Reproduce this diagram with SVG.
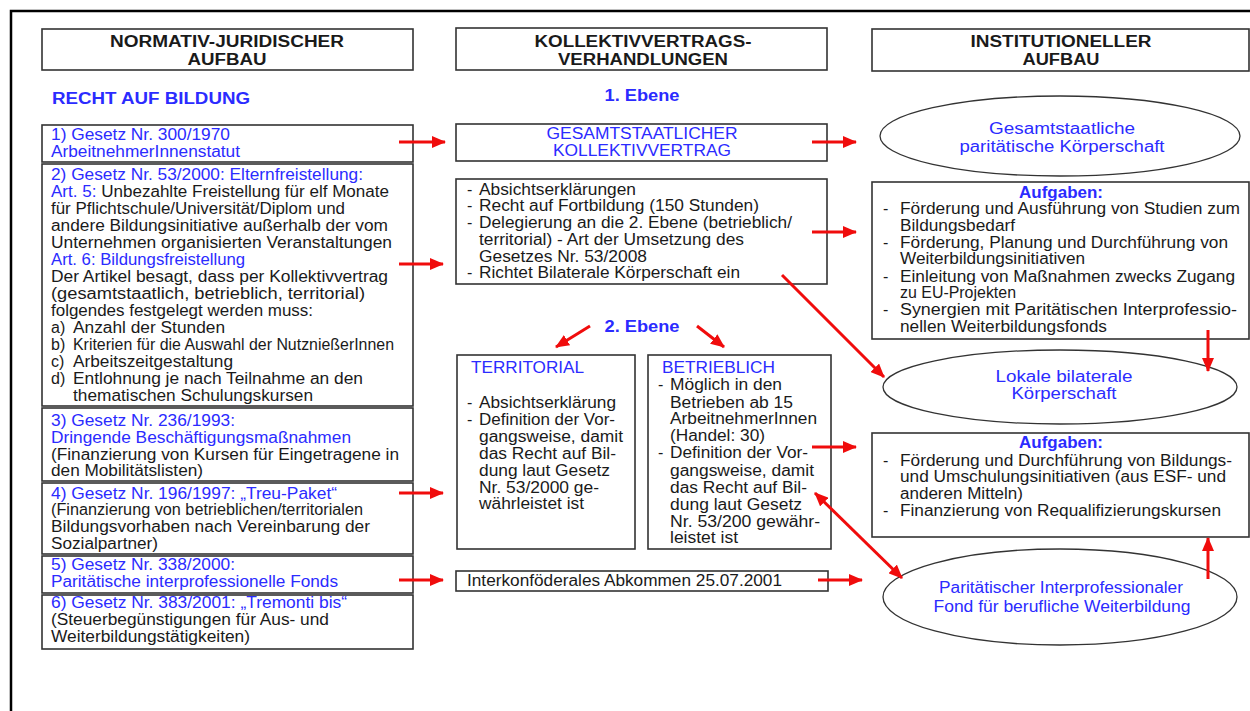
<svg xmlns="http://www.w3.org/2000/svg" width="1250" height="711" viewBox="0 0 1250 711">
<defs>
<style>
text{font-family:"Liberation Sans",Arial,sans-serif;font-size:16px;fill:#1a1a1a}
.b{fill:#2b2bff}
.h{font-weight:bold;font-size:16px}
.c{text-anchor:middle}
.box{fill:#fff;stroke:#333;stroke-width:1.6}
.ell{fill:#fff;stroke:#333;stroke-width:1.3}
.arr{stroke:#f00c0c;stroke-width:3;fill:none;marker-end:url(#ah)}
</style>
<marker id="ah" markerUnits="userSpaceOnUse" markerWidth="14" markerHeight="12" refX="13" refY="6" orient="auto">
<path d="M0,0 L14,6 L0,12 z" fill="#f00c0c"/>
</marker>
<marker id="ahs" markerUnits="userSpaceOnUse" markerWidth="14" markerHeight="12" refX="1" refY="6" orient="auto">
<path d="M14,0 L0,6 L14,12 z" fill="#f00c0c"/>
</marker>
</defs>
<rect width="1250" height="711" fill="#fff"/>
<path d="M11,711 V11 H1250" fill="none" stroke="#000" stroke-width="2.5"/>

<g id="hdr-left">
<rect class="box" x="42" y="29" width="371" height="41"/>
<text class="h c" x="227" y="47" textLength="234" lengthAdjust="spacingAndGlyphs">NORMATIV-JURIDISCHER</text>
<text class="h c" x="227" y="65" textLength="79" lengthAdjust="spacingAndGlyphs">AUFBAU</text>
</g>
<g id="recht">
<text class="h b" x="52" y="104" textLength="198" lengthAdjust="spacingAndGlyphs">RECHT AUF BILDUNG</text>
</g>
<g id="law1">
<rect class="box" x="42" y="125" width="371" height="37"/>
<text class="b" x="51" y="140" textLength="179" lengthAdjust="spacingAndGlyphs">1) Gesetz Nr. 300/1970</text>
<text class="b" x="51" y="157" textLength="189" lengthAdjust="spacingAndGlyphs">ArbeitnehmerInnenstatut</text>
</g>
<g id="law2">
<rect class="box" x="42" y="164" width="371" height="242"/>
<text class="b" x="51" y="180" textLength="312" lengthAdjust="spacingAndGlyphs">2) Gesetz Nr. 53/2000: Elternfreistellung:</text>
<text x="51" y="197" textLength="338" lengthAdjust="spacingAndGlyphs"><tspan class="b">Art. 5:</tspan> Unbezahlte Freistellung für elf Monate</text>
<text x="51" y="214" textLength="294" lengthAdjust="spacingAndGlyphs">für Pflichtschule/Universität/Diplom und</text>
<text x="51" y="231" textLength="337" lengthAdjust="spacingAndGlyphs">andere Bildungsinitiative außerhalb der vom</text>
<text x="51" y="248" textLength="341" lengthAdjust="spacingAndGlyphs">Unternehmen organisierten Veranstaltungen</text>
<text class="b" x="51" y="265" textLength="194" lengthAdjust="spacingAndGlyphs">Art. 6: Bildungsfreistellung</text>
<text x="51" y="282" textLength="337" lengthAdjust="spacingAndGlyphs">Der Artikel besagt, dass per Kollektivvertrag</text>
<text x="51" y="299" textLength="314" lengthAdjust="spacingAndGlyphs">(gesamtstaatlich, betrieblich, territorial)</text>
<text x="51" y="316" textLength="262" lengthAdjust="spacingAndGlyphs">folgendes festgelegt werden muss:</text>
<text x="51" y="333">a)</text><text x="73" y="333" textLength="152" lengthAdjust="spacingAndGlyphs">Anzahl der Stunden</text>
<text x="51" y="350">b)</text><text x="73" y="350" textLength="321" lengthAdjust="spacingAndGlyphs">Kriterien für die Auswahl der NutznießerInnen</text>
<text x="51" y="367">c)</text><text x="73" y="367" textLength="160" lengthAdjust="spacingAndGlyphs">Arbeitszeitgestaltung</text>
<text x="51" y="384">d)</text><text x="73" y="384" textLength="290" lengthAdjust="spacingAndGlyphs">Entlohnung je nach Teilnahme an den</text>
<text x="73" y="401" textLength="240" lengthAdjust="spacingAndGlyphs">thematischen Schulungskursen</text>
</g>
<g id="law3">
<rect class="box" x="42" y="408" width="371" height="73"/>
<text class="b" x="51" y="426" textLength="184" lengthAdjust="spacingAndGlyphs">3) Gesetz Nr. 236/1993:</text>
<text class="b" x="51" y="443" textLength="300" lengthAdjust="spacingAndGlyphs">Dringende Beschäftigungsmaßnahmen</text>
<text x="51" y="460" textLength="348" lengthAdjust="spacingAndGlyphs">(Finanzierung von Kursen für Eingetragene in</text>
<text x="51" y="476" textLength="152" lengthAdjust="spacingAndGlyphs">den Mobilitätslisten)</text>
</g>
<g id="law4">
<rect class="box" x="42" y="483" width="371" height="71"/>
<text class="b" x="51" y="499" textLength="286" lengthAdjust="spacingAndGlyphs">4) Gesetz Nr. 196/1997: „Treu-Paket“</text>
<text x="51" y="515" textLength="312" lengthAdjust="spacingAndGlyphs">(Finanzierung von betrieblichen/territorialen</text>
<text x="51" y="532" textLength="319" lengthAdjust="spacingAndGlyphs">Bildungsvorhaben nach Vereinbarung der</text>
<text x="51" y="549" textLength="107" lengthAdjust="spacingAndGlyphs">Sozialpartner)</text>
</g>
<g id="law5">
<rect class="box" x="42" y="556" width="371" height="37"/>
<text class="b" x="51" y="570" textLength="184" lengthAdjust="spacingAndGlyphs">5) Gesetz Nr. 338/2000:</text>
<text class="b" x="51" y="587" textLength="287" lengthAdjust="spacingAndGlyphs">Paritätische interprofessionelle Fonds</text>
</g>
<g id="law6">
<rect class="box" x="42" y="595" width="371" height="54"/>
<text class="b" x="51" y="608" textLength="296" lengthAdjust="spacingAndGlyphs">6) Gesetz Nr. 383/2001: „Tremonti bis“</text>
<text x="51" y="625" textLength="278" lengthAdjust="spacingAndGlyphs">(Steuerbegünstigungen für Aus- und</text>
<text x="51" y="642" textLength="199" lengthAdjust="spacingAndGlyphs">Weiterbildungstätigkeiten)</text>
</g>

<g id="hdr-mid">
<rect class="box" x="456" y="28" width="371" height="42"/>
<text class="h c" x="643" y="47" textLength="217" lengthAdjust="spacingAndGlyphs">KOLLEKTIVVERTRAGS-</text>
<text class="h c" x="643" y="65" textLength="170" lengthAdjust="spacingAndGlyphs">VERHANDLUNGEN</text>
</g>
<g id="ebene1">
<text class="h b c" x="642" y="101" textLength="75" lengthAdjust="spacingAndGlyphs">1. Ebene</text>
</g>
<g id="gesamt">
<rect class="box" x="456" y="124" width="371" height="37"/>
<text class="b c" x="642" y="139" textLength="191" lengthAdjust="spacingAndGlyphs">GESAMTSTAATLICHER</text>
<text class="b c" x="642" y="156" textLength="178" lengthAdjust="spacingAndGlyphs">KOLLEKTIVVERTRAG</text>
</g>
<g id="gesamt-list">
<rect class="box" x="456" y="179" width="371" height="105"/>
<text x="467" y="195">-</text><text x="479" y="195" textLength="157" lengthAdjust="spacingAndGlyphs">Absichtserklärungen</text>
<text x="467" y="211">-</text><text x="479" y="211" textLength="280" lengthAdjust="spacingAndGlyphs">Recht auf Fortbildung (150 Stunden)</text>
<text x="467" y="228">-</text><text x="479" y="228" textLength="313" lengthAdjust="spacingAndGlyphs">Delegierung an die 2. Ebene (betrieblich/</text>
<text x="479" y="245" textLength="265" lengthAdjust="spacingAndGlyphs">territorial) - Art der Umsetzung des</text>
<text x="479" y="262" textLength="168" lengthAdjust="spacingAndGlyphs">Gesetzes Nr. 53/2008</text>
<text x="467" y="278">-</text><text x="479" y="278" textLength="261" lengthAdjust="spacingAndGlyphs">Richtet Bilaterale Körperschaft ein</text>
</g>
<g id="ebene2">
<text class="h b c" x="642" y="332" textLength="75" lengthAdjust="spacingAndGlyphs">2. Ebene</text>
</g>
<g id="territorial">
<rect class="box" x="457" y="355" width="178" height="194"/>
<text class="b" x="471" y="373" textLength="113" lengthAdjust="spacingAndGlyphs">TERRITORIAL</text>
<text x="467" y="408">-</text><text x="479" y="408" textLength="137" lengthAdjust="spacingAndGlyphs">Absichtserklärung</text>
<text x="467" y="425">-</text><text x="479" y="425" textLength="136" lengthAdjust="spacingAndGlyphs">Definition der Vor-</text>
<text x="479" y="442" textLength="144" lengthAdjust="spacingAndGlyphs">gangsweise, damit</text>
<text x="479" y="459" textLength="137" lengthAdjust="spacingAndGlyphs">das Recht auf Bil-</text>
<text x="479" y="476" textLength="131" lengthAdjust="spacingAndGlyphs">dung laut Gesetz</text>
<text x="479" y="493" textLength="120" lengthAdjust="spacingAndGlyphs">Nr. 53/2000 ge-</text>
<text x="479" y="509" textLength="105" lengthAdjust="spacingAndGlyphs">währleistet ist</text>
</g>
<g id="betrieblich">
<rect class="box" x="648" y="355" width="183" height="194"/>
<text class="b" x="662" y="373" textLength="113" lengthAdjust="spacingAndGlyphs">BETRIEBLICH</text>
<text x="658" y="390">-</text><text x="670" y="390" textLength="112" lengthAdjust="spacingAndGlyphs">Möglich in den</text>
<text x="670" y="408" textLength="123" lengthAdjust="spacingAndGlyphs">Betrieben ab 15</text>
<text x="670" y="424" textLength="147" lengthAdjust="spacingAndGlyphs">ArbeitnehmerInnen</text>
<text x="670" y="441" textLength="95" lengthAdjust="spacingAndGlyphs">(Handel: 30)</text>
<text x="658" y="458">-</text><text x="670" y="458" textLength="138" lengthAdjust="spacingAndGlyphs">Definition der Vor-</text>
<text x="670" y="476" textLength="144" lengthAdjust="spacingAndGlyphs">gangsweise, damit</text>
<text x="670" y="493" textLength="137" lengthAdjust="spacingAndGlyphs">das Recht auf Bil-</text>
<text x="670" y="510" textLength="132" lengthAdjust="spacingAndGlyphs">dung laut Gesetz</text>
<text x="670" y="527" textLength="150" lengthAdjust="spacingAndGlyphs">Nr. 53/200 gewähr-</text>
<text x="670" y="543" textLength="68" lengthAdjust="spacingAndGlyphs">leistet ist</text>
</g>
<g id="interkonf">
<rect class="box" x="456" y="571" width="372" height="20"/>
<text x="467" y="586" textLength="315" lengthAdjust="spacingAndGlyphs">Interkonföderales Abkommen 25.07.2001</text>
</g>

<g id="hdr-right">
<rect class="box" x="872" y="29" width="377" height="42"/>
<text class="h c" x="1061" y="47" textLength="181" lengthAdjust="spacingAndGlyphs">INSTITUTIONELLER</text>
<text class="h c" x="1061" y="65" textLength="77" lengthAdjust="spacingAndGlyphs">AUFBAU</text>
</g>
<g id="ell1">
<ellipse class="ell" cx="1060" cy="136" rx="180" ry="40"/>
<text class="b c" x="1062" y="134" textLength="146" lengthAdjust="spacingAndGlyphs">Gesamtstaatliche</text>
<text class="b c" x="1062" y="152" textLength="205" lengthAdjust="spacingAndGlyphs">paritätische Körperschaft</text>
</g>
<g id="aufg1">
<rect class="box" x="872" y="182" width="377" height="157"/>
<text class="h b c" x="1061" y="198" textLength="84" lengthAdjust="spacingAndGlyphs">Aufgaben:</text>
<text x="883" y="214">-</text><text x="900" y="214" textLength="340" lengthAdjust="spacingAndGlyphs">Förderung und Ausführung von Studien zum</text>
<text x="900" y="231" textLength="115" lengthAdjust="spacingAndGlyphs">Bildungsbedarf</text>
<text x="883" y="248">-</text><text x="900" y="248" textLength="328" lengthAdjust="spacingAndGlyphs">Förderung, Planung und Durchführung von</text>
<text x="900" y="264" textLength="185" lengthAdjust="spacingAndGlyphs">Weiterbildungsinitiativen</text>
<text x="883" y="282">-</text><text x="900" y="282" textLength="335" lengthAdjust="spacingAndGlyphs">Einleitung von Maßnahmen zwecks Zugang</text>
<text x="900" y="298" textLength="116" lengthAdjust="spacingAndGlyphs">zu EU-Projekten</text>
<text x="883" y="315">-</text><text x="900" y="315" textLength="337" lengthAdjust="spacingAndGlyphs">Synergien mit Paritätischen Interprofessio-</text>
<text x="900" y="332" textLength="207" lengthAdjust="spacingAndGlyphs">nellen Weiterbildungsfonds</text>
</g>
<g id="ell2">
<ellipse class="ell" cx="1060" cy="387" rx="177" ry="37"/>
<text class="b c" x="1064" y="382" textLength="137" lengthAdjust="spacingAndGlyphs">Lokale bilaterale</text>
<text class="b c" x="1064" y="399" textLength="105" lengthAdjust="spacingAndGlyphs">Körperschaft</text>
</g>
<g id="aufg2">
<rect class="box" x="872" y="433" width="377" height="104"/>
<text class="h b c" x="1061" y="448" textLength="84" lengthAdjust="spacingAndGlyphs">Aufgaben:</text>
<text x="883" y="466">-</text><text x="900" y="466" textLength="332" lengthAdjust="spacingAndGlyphs">Förderung und Durchführung von Bildungs-</text>
<text x="900" y="482" textLength="326" lengthAdjust="spacingAndGlyphs">und Umschulungsinitiativen (aus ESF- und</text>
<text x="900" y="499" textLength="123" lengthAdjust="spacingAndGlyphs">anderen Mitteln)</text>
<text x="883" y="516">-</text><text x="900" y="516" textLength="321" lengthAdjust="spacingAndGlyphs">Finanzierung von Requalifizierungskursen</text>
</g>
<g id="ell3">
<ellipse class="ell" cx="1060" cy="597" rx="177" ry="48"/>
<text class="b c" x="1061" y="593" textLength="244" lengthAdjust="spacingAndGlyphs">Paritätischer Interprofessionaler</text>
<text class="b c" x="1062" y="612" textLength="257" lengthAdjust="spacingAndGlyphs">Fond für berufliche Weiterbildung</text>
</g>

<g id="connectors">
<line class="arr" x1="399" y1="142" x2="445" y2="142"/>
<line class="arr" x1="399" y1="264" x2="443" y2="264"/>
<line class="arr" x1="399" y1="493" x2="443" y2="493"/>
<line class="arr" x1="399" y1="580" x2="443" y2="580"/>
<line class="arr" x1="812" y1="142" x2="856" y2="142"/>
<line class="arr" x1="812" y1="232" x2="856" y2="232"/>
<line class="arr" x1="782" y1="275" x2="884" y2="377"/>
<line class="arr" x1="590" y1="326" x2="556" y2="347"/>
<line class="arr" x1="697" y1="326" x2="724" y2="347"/>
<line class="arr" x1="812" y1="447" x2="856" y2="447"/>
<line class="arr" x1="815" y1="493" x2="902" y2="578" style="marker-start:url(#ahs)"/>
<line class="arr" x1="818" y1="580" x2="862" y2="580"/>
<line class="arr" x1="1208" y1="330" x2="1208" y2="371"/>
<line class="arr" x1="1208" y1="579" x2="1208" y2="538"/>
</g>
</svg>
